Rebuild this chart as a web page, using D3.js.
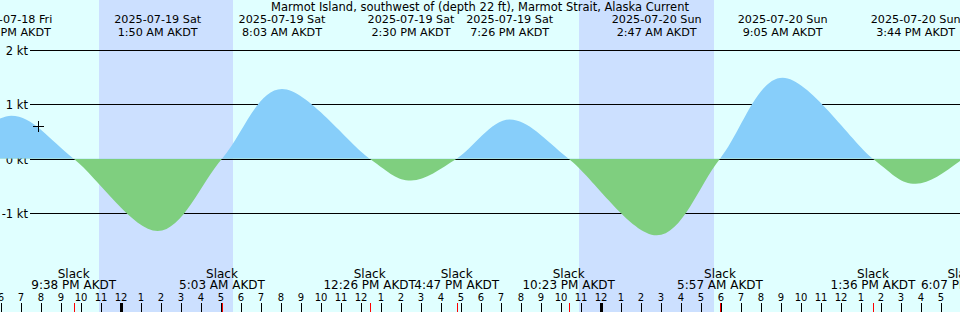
<html>
<head>
<script src="https://d3js.org/d3.v7.min.js"></script>
<style>
  body { margin: 0; }
  text { font-family: "DejaVu Sans", sans-serif; fill: #000; }
</style>
</head>
<body>
<div id="plot"></div>
<script>
var width = 960, height = 312;

// current events (AKDT, naive local time)
var eventTimes = ["2025-07-18 15:20", "2025-07-18 18:31", "2025-07-18 21:38", "2025-07-19 01:50",
                  "2025-07-19 05:03", "2025-07-19 08:03", "2025-07-19 12:26", "2025-07-19 14:30",
                  "2025-07-19 16:47", "2025-07-19 19:26", "2025-07-19 22:23", "2025-07-20 02:47",
                  "2025-07-20 05:57", "2025-07-20 09:05", "2025-07-20 13:36", "2025-07-20 15:44",
                  "2025-07-20 18:07", "2025-07-20 21:00"];
var eventTypes = ["slack", "flood", "slack", "ebb", "slack", "flood", "slack", "ebb",
                  "slack", "flood", "slack", "ebb", "slack", "flood", "slack", "ebb",
                  "slack", "flood"];
var eventValues = [0, 0.79, 0, -1.33, 0, 1.28, 0, -0.40, 0, 0.72, 0, -1.41, 0, 1.49, 0, -0.46, 0, 0.9];
var eventLabels = ["", "6:31 PM AKDT", "9:38 PM AKDT", "1:50 AM AKDT", "5:03 AM AKDT", "8:03 AM AKDT",
                   "12:26 PM AKDT", "2:30 PM AKDT", "4:47 PM AKDT", "7:26 PM AKDT", "10:23 PM AKDT",
                   "2:47 AM AKDT", "5:57 AM AKDT", "9:05 AM AKDT", "1:36 PM AKDT", "3:44 PM AKDT",
                   "6:07 PM AKDT", ""];
var eventDays = ["", "2025-07-18 Fri", "", "2025-07-19 Sat", "", "2025-07-19 Sat", "", "2025-07-19 Sat",
                 "", "2025-07-19 Sat", "", "2025-07-20 Sun", "", "2025-07-20 Sun", "", "2025-07-20 Sun", "", ""];

var nightStart = ["2025-07-18 22:54", "2025-07-19 22:54"];
var nightEnd = ["2025-07-19 05:36", "2025-07-20 05:39"];

var yTicks = [2, 1, 0, -1];
var markerTime = "2025-07-18 19:51", markerValue = 0.61;
var title = "Marmot Island, southwest of (depth 22 ft), Marmot Strait, Alaska Current";

var parse = d3.utcParse("%Y-%m-%d %H:%M");
var data = eventTimes.map(function (t, i) {
    return { t: parse(t), v: eventValues[i], type: eventTypes[i], label: eventLabels[i], day: eventDays[i] };
});

var x = d3.scaleUtc()
    .domain([parse("2025-07-18 17:57"), parse("2025-07-20 17:57")])
    .range([0, width]);
var y = d3.scaleLinear().domain([-1, 2]).range([213, 50]);

var svg = d3.select("#plot").append("svg")
    .attr("width", width).attr("height", height);

svg.append("rect").attr("width", width).attr("height", height).attr("fill", "#e0ffff");

// night shading
svg.append("g").selectAll("rect")
    .data(nightStart)
    .enter().append("rect")
    .attr("x", function (d) { return x(parse(d)); })
    .attr("width", function (d, i) { return x(parse(nightEnd[i])) - x(parse(d)); })
    .attr("y", 0).attr("height", height)
    .attr("fill", "#cce0ff");

// grid lines
var grid = svg.append("g");
grid.selectAll("line").data(yTicks).enter().append("line")
    .attr("x1", 30).attr("x2", width)
    .attr("y1", function (d) { return Math.round(y(d)) + 0.5; })
    .attr("y2", function (d) { return Math.round(y(d)) + 0.5; })
    .attr("stroke", "#000").attr("stroke-width", 1);
grid.selectAll("text").data(yTicks).enter().append("text")
    .attr("x", 28)
    .attr("y", function (d) { return Math.round(y(d)) + 4.5; })
    .attr("text-anchor", "end")
    .style("font-size", "11.5px")
    .text(function (d) { return d + " kt"; });

// flood / ebb areas
var area = d3.area()
    .x(function (d) { return x(d.t); })
    .y0(y(0))
    .y1(function (d) { return y(d.v); })
    .curve(d3.curveCardinal.tension(0));

var defs = svg.append("defs");
defs.append("clipPath").attr("id", "above")
    .append("rect").attr("x", 0).attr("y", 0).attr("width", width).attr("height", y(0));
defs.append("clipPath").attr("id", "below")
    .append("rect").attr("x", 0).attr("y", y(0)).attr("width", width).attr("height", height - y(0));

svg.append("path").datum(data).attr("d", area)
    .attr("fill", "#87cefa").attr("clip-path", "url(#above)");
svg.append("path").datum(data).attr("d", area)
    .attr("fill", "#7fcf7f").attr("clip-path", "url(#below)");

// marker
var mx = Math.round(x(parse(markerTime))), my = Math.round(y(markerValue));
svg.append("path")
    .attr("d", "M" + (mx - 5) + "," + (my + 0.5) + "h11M" + (mx + 0.5) + "," + (my - 5) + "v11")
    .attr("stroke", "#000").attr("stroke-width", 1);

// title
svg.append("text").attr("x", 480).attr("y", 11).attr("text-anchor", "middle")
    .style("font-size", "11.5px").text(title);

// max flood / ebb labels
var maxes = data.filter(function (d) { return d.type != "slack" && d.day; });
var topLabels = svg.append("g").attr("text-anchor", "middle").style("font-size", "11.2px");
topLabels.selectAll("text.day").data(maxes).enter().append("text")
    .attr("class", "day")
    .attr("x", function (d) { return x(d.t); }).attr("y", 23)
    .text(function (d) { return d.day; });
topLabels.selectAll("text.time").data(maxes).enter().append("text")
    .attr("class", "time")
    .attr("x", function (d) { return x(d.t); }).attr("y", 36)
    .text(function (d) { return d.label; });

// slack labels
var slacks = data.filter(function (d) { return d.type == "slack" && d.label; });
var botLabels = svg.append("g").attr("text-anchor", "middle").style("font-size", "12px");
botLabels.selectAll("text.s").data(slacks).enter().append("text")
    .attr("class", "s")
    .attr("x", function (d) { return x(d.t); }).attr("y", 278)
    .text("Slack");
botLabels.selectAll("text.t").data(slacks).enter().append("text")
    .attr("class", "t")
    .attr("x", function (d) { return x(d.t); }).attr("y", 289)
    .text(function (d) { return d.label; });

// hour axis
var hours = x.ticks(d3.utcHour.every(1));
var axis = svg.append("g");
axis.selectAll("text").data(hours).enter().append("text")
    .attr("x", function (d) { return x(d); }).attr("y", 301)
    .attr("text-anchor", "middle")
    .style("font-size", "10px")
    .text(function (d) { return d.getUTCHours() % 12 || 12; });
axis.selectAll("line.hr").data(hours).enter().append("line")
    .attr("class", "hr")
    .attr("x1", function (d) { return Math.round(x(d)) + 0.5; })
    .attr("x2", function (d) { return Math.round(x(d)) + 0.5; })
    .attr("y1", 303).attr("y2", height)
    .attr("stroke", "#000")
    .attr("stroke-width", function (d) { return d.getUTCHours() == 0 ? 3 : 1; });
axis.selectAll("line.slack").data(slacks).enter().append("line")
    .attr("class", "slack")
    .attr("x1", function (d) { return Math.round(x(d.t)) + 0.5; })
    .attr("x2", function (d) { return Math.round(x(d.t)) + 0.5; })
    .attr("y1", 303).attr("y2", height)
    .attr("stroke", "red").attr("stroke-width", 1);
</script>
</body>
</html>
